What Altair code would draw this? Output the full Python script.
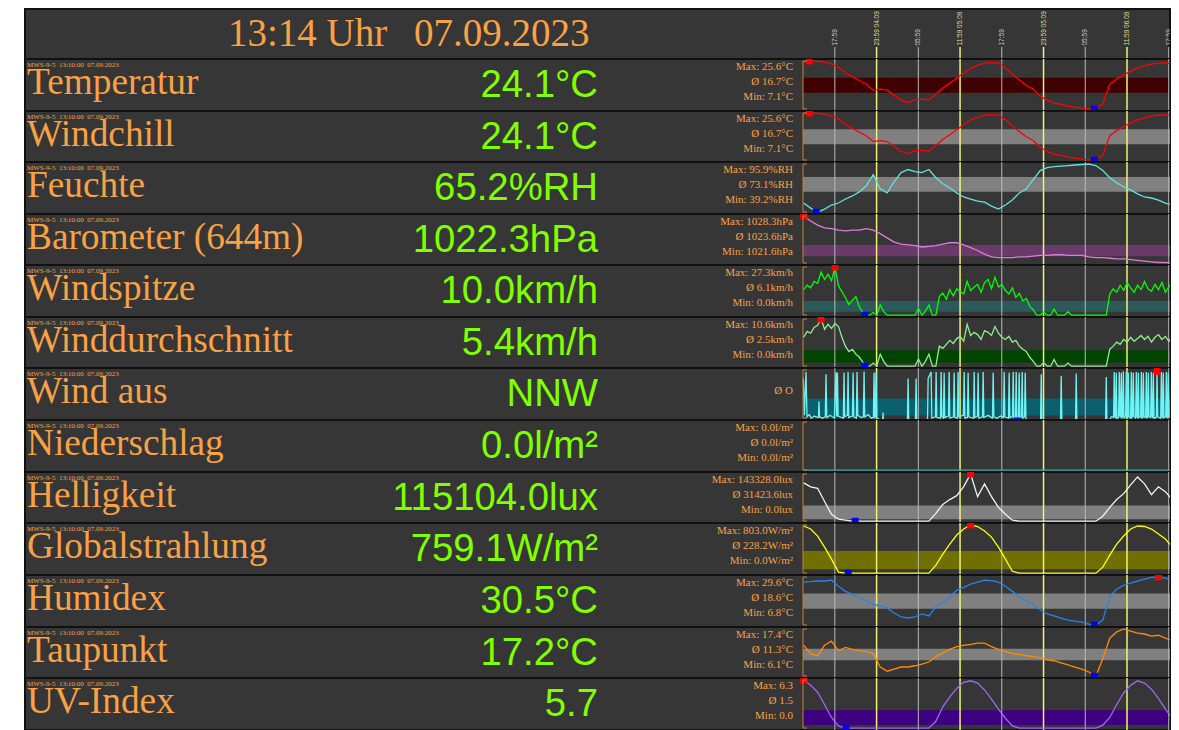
import altair as alt
import pandas as pd

# ---------------- time grid (hours since 04.09. 00:00) ----------------
hours = [13.5 + i for i in range(55)]
half_hours = [13.5 + 0.5 * j for j in range(109)]

# ---------------- series ----------------
temperatur = [25.4, 25.6, 25.5, 25.2, 24.4, 23.3, 21.0, 19.6, 18.1, 16.7,
              14.4, 14.8, 14.4, 12.5, 10.6, 9.6, 10.8, 11.0, 10.6, 12.9,
              15.2, 17.1, 19.0, 21.0, 22.9, 23.9, 24.8, 25.0, 24.8, 22.9,
              20.6, 18.3, 16.3, 14.8, 12.1, 10.6, 9.4, 9.0, 8.3, 7.9,
              7.5, 7.1, 7.5, 9.0, 16.7, 18.7, 20.2, 21.7, 22.9, 23.7,
              24.4, 24.8, 25.0, 24.4, 22.5]
windchill = [25.4, 25.6, 25.5, 25.2, 24.4, 23.3, 21.0, 19.6, 18.1, 16.7,
             14.4, 14.8, 14.4, 12.5, 10.6, 9.6, 10.8, 11.0, 10.6, 12.9,
             15.2, 17.1, 19.0, 21.0, 22.9, 23.9, 24.8, 25.0, 24.8, 22.9,
             20.6, 18.3, 16.3, 14.8, 12.1, 10.6, 9.4, 9.0, 8.3, 7.9,
             7.5, 7.1, 7.5, 9.0, 16.7, 18.7, 20.2, 21.7, 22.9, 23.7,
             24.4, 24.8, 25.0, 24.4, 22.5]
feuchte = [50.0, 44.0, 39.2, 42.8, 47.6, 50.0, 54.7, 58.3, 63.1, 70.2,
           83.4, 66.7, 61.9, 75.0, 85.8, 89.4, 87.0, 85.8, 89.4, 79.8,
           72.6, 67.9, 61.9, 57.1, 54.7, 52.3, 51.1, 46.4, 42.8, 47.6,
           53.5, 61.9, 66.7, 77.4, 88.2, 91.7, 92.9, 93.5, 94.1, 94.7,
           95.3, 95.9, 94.1, 88.2, 79.8, 73.8, 69.1, 65.5, 60.7, 57.1,
           55.9, 53.5, 50.0, 47.6, 51.1]
barometer = [1028.3, 1027.6, 1027.0, 1026.6, 1026.5, 1026.3, 1026.2, 1026.3, 1026.3, 1026.5,
             1026.3, 1025.8, 1025.2, 1024.6, 1024.3, 1024.2, 1024.1, 1023.9, 1024.0, 1024.1,
             1024.3, 1024.5, 1024.5, 1024.2, 1023.8, 1023.4, 1022.9, 1022.5, 1022.4, 1022.4,
             1022.4, 1022.5, 1022.5, 1022.6, 1022.7, 1022.7, 1022.8, 1022.8, 1022.7, 1022.7,
             1022.7, 1022.5, 1022.4, 1022.4, 1022.3, 1022.2, 1022.2, 1022.1, 1022.0, 1021.9,
             1021.8, 1021.7, 1021.7, 1021.6, 1021.6]
windspitze = [14.5, 17.0, 15.5, 19.2, 18.0, 24.4, 20.3, 23.2, 19.5, 27.3,
              16.5, 13.4, 9.9, 6.0, 8.5, 10.5, 4.6, 1.7, 0.0, 0.0,
              1.5, 0.0, 5.8, 2.0, 0.0, 0.0, 0.0, 0.0, 0.0, 0.0,
              0.0, 0.0, 0.0, 4.0, 0.0, 2.5, 5.8, 0.0, 0.0, 10.5,
              12.5, 9.0, 14.5, 11.0, 15.0, 13.4, 12.0, 19.2, 14.0, 16.0,
              17.4, 13.0, 18.5, 20.3, 15.0, 21.5, 16.0, 17.4, 14.0, 12.0,
              15.5, 10.0, 12.5, 8.0, 9.5, 5.0, 3.0, 0.0, 0.0, 2.0,
              0.0, 0.0, 3.5, 0.0, 0.0, 0.0, 2.0, 0.0, 0.0, 0.0,
              0.0, 0.0, 0.0, 0.0, 0.0, 0.0, 0.0, 0.0, 12.0, 15.0,
              13.0, 17.0, 14.0, 18.5, 15.5, 13.0, 17.0, 14.5, 19.0, 15.0,
              13.5, 17.5, 14.5, 18.5, 13.0, 16.0, 19.5, 14.0, 16.5]
winddurchschnitt = [6.5, 7.8, 7.4, 8.7, 9.2, 10.6, 8.3, 9.4, 8.5, 9.6,
                    8.9, 6.5, 4.5, 3.3, 3.8, 2.7, 2.0, 0.9, 0.0, 0.0,
                    0.7, 0.0, 2.7, 1.1, 0.0, 0.0, 0.0, 0.0, 0.0, 0.0,
                    0.0, 0.0, 0.0, 1.6, 0.0, 1.1, 2.7, 0.0, 0.0, 4.5,
                    4.0, 4.9, 5.8, 5.1, 6.2, 6.7, 5.6, 9.4, 6.9, 7.6,
                    7.1, 6.0, 8.0, 7.6, 6.9, 8.9, 7.4, 6.5, 6.0, 6.7,
                    5.4, 5.8, 4.5, 3.8, 3.3, 2.0, 1.1, 0.0, 0.0, 0.8,
                    0.0, 0.0, 1.5, 0.0, 0.0, 0.0, 0.7, 0.0, 0.0, 0.0,
                    0.0, 0.0, 0.0, 0.0, 0.0, 0.0, 0.0, 0.0, 3.8, 4.5,
                    5.4, 4.9, 6.0, 5.4, 6.5, 5.6, 6.2, 6.9, 6.0, 6.7,
                    5.4, 6.5, 7.1, 6.0, 6.7, 5.6, 6.9, 6.2, 5.8]
# wind direction (degrees) at irregular times: (hour, degrees)
wind_aus_pairs = [
    (13.45, 300), (13.60, 40), (13.83, 345), (13.98, 30), (14.30, 45), (14.60, 20),
    (15.00, 35), (15.50, 25), (15.62, 25), (15.70, 140), (15.78, 30), (16.20, 20),
    (16.60, 30), (16.71, 330), (16.82, 25), (17.30, 40), (17.90, 20), (18.15, 345),
    (18.25, 30), (18.35, 340), (18.45, 35), (18.90, 25), (19.20, 20), (19.30, 340),
    (19.40, 30), (19.78, 40), (19.88, 345), (19.98, 25), (20.50, 35), (20.60, 340),
    (20.70, 30), (21.07, 20), (21.17, 345), (21.27, 40), (21.80, 25), (22.08, 30),
    (22.18, 350), (22.28, 30), (22.80, 45), (23.20, 20), (23.52, 25), (23.62, 340),
    (23.72, 25), (23.80, 30), (23.90, 345), (24.00, 20), (24.40, 10), (24.62, 0),
    (24.85, 0), (24.91, 60), (24.97, 0),
    (28.41, 0), (28.51, 300), (28.61, 0), (29.56, 0), (29.66, 300), (29.76, 0),
    (31.00, 0), (31.30, 15), (31.39, 300), (31.82, 345), (31.92, 20), (32.44, 30),
    (32.54, 345), (32.64, 25), (33.16, 20), (33.26, 345), (33.36, 30), (33.59, 20),
    (33.69, 340), (33.79, 25), (34.31, 35), (34.41, 345), (34.51, 20), (35.03, 30),
    (35.13, 340), (35.23, 25), (35.60, 20), (35.70, 345), (35.80, 30), (36.47, 40),
    (36.57, 345), (36.67, 20), (37.04, 25), (37.14, 340), (37.24, 30), (37.91, 20),
    (38.01, 345), (38.11, 25), (38.48, 35), (38.58, 340), (38.68, 20), (39.20, 30),
    (39.30, 345), (39.40, 25), (40.00, 40), (40.64, 20), (40.74, 340), (40.84, 30),
    (41.30, 20), (41.80, 35), (42.22, 25), (42.32, 345), (42.42, 30), (42.94, 20),
    (43.04, 340), (43.14, 25), (43.52, 30), (43.62, 345), (43.72, 20), (43.95, 20),
    (44.05, 345), (44.15, 10), (44.20, 0), (44.38, 15), (44.48, 340), (44.58, 25),
    (44.81, 30), (44.91, 345), (45.01, 20), (45.25, 30), (45.35, 340), (45.45, 15),
    (45.80, 5), (46.20, 0),
    (47.55, 0), (47.65, 330), (47.75, 0), (50.42, 0), (50.52, 320), (50.62, 0),
    (52.58, 0), (52.68, 335), (52.78, 0), (56.90, 0), (57.00, 310), (57.10, 0),
    (57.50, 10), (57.72, 30),
    (58.05, 25), (58.15, 345), (58.25, 30), (58.34, 25), (58.44, 340), (58.54, 20),
    (58.77, 25), (58.87, 345), (58.97, 35), (59.06, 30), (59.16, 340), (59.26, 25),
    (59.35, 30), (59.45, 350), (59.55, 20), (59.78, 30), (59.88, 345), (59.98, 25),
    (60.07, 20), (60.17, 340), (60.27, 30), (60.50, 20), (60.60, 345), (60.70, 25),
    (60.79, 30), (60.89, 340), (60.99, 35), (61.22, 20), (61.32, 345), (61.42, 30),
    (61.51, 25), (61.61, 340), (61.71, 25), (61.94, 30), (62.04, 345), (62.14, 20),
    (62.23, 25), (62.33, 340), (62.43, 30), (62.66, 25), (62.76, 345), (62.86, 20),
    (62.95, 30), (63.05, 340), (63.15, 30), (63.38, 25), (63.48, 345), (63.58, 35),
    (63.67, 20), (63.77, 340), (63.87, 20), (64.20, 25), (64.30, 350), (64.40, 30),
    (64.82, 20), (64.92, 345), (65.02, 30), (65.10, 25), (65.20, 340), (65.30, 25),
    (65.54, 30), (65.64, 345), (65.74, 20), (65.82, 30), (65.92, 340), (66.02, 35),
    (66.25, 25), (66.35, 345), (66.45, 30), (66.54, 20), (66.64, 340), (66.74, 20),
    (66.97, 30), (67.07, 345), (67.17, 25), (67.30, 30), (67.40, 340), (67.50, 30),
]
wind_aus_t = [p[0] for p in wind_aus_pairs]
wind_aus = [p[1] for p in wind_aus_pairs]
niederschlag = [0.0, 0.0, 0.0, 0.0, 0.0, 0.0, 0.0, 0.0, 0.0, 0.0, 0.0,
                0.0, 0.0, 0.0, 0.0, 0.0, 0.0, 0.0, 0.0, 0.0, 0.0, 0.0,
                0.0, 0.0, 0.0, 0.0, 0.0, 0.0, 0.0, 0.0, 0.0, 0.0, 0.0,
                0.0, 0.0, 0.0, 0.0, 0.0, 0.0, 0.0, 0.0, 0.0, 0.0, 0.0,
                0.0, 0.0, 0.0, 0.0, 0.0, 0.0, 0.0, 0.0, 0.0, 0.0, 0.0]
helligkeit = [116500, 104500, 100000, 59700, 20900, 6000, 3000, 0, 0, 0,
              0, 0, 0, 0, 0, 0, 0, 0, 0, 23900,
              50800, 65700, 77600, 105000, 143328, 74700, 113500, 74700, 41800, 20900,
              3000, 0, 0, 0, 0, 0, 0, 0, 0, 0,
              0, 0, 0, 15000, 41800, 65700, 83600, 110500, 134400, 113500,
              80600, 104500, 89600, 65700, 41800]
globalstrahlung = [786, 736, 619, 435, 234, 17, 0, 0, 0, 0,
                   0, 0, 0, 0, 0, 0, 0, 0, 0, 134,
                   318, 485, 636, 736, 803, 778, 703, 602, 435, 234,
                   33, 0, 0, 0, 0, 0, 0, 0, 0, 0,
                   0, 0, 0, 100, 301, 485, 619, 736, 786, 778,
                   736, 652, 569, 435, 268]
humidex = [27.2, 27.4, 27.7, 27.7, 28.1, 25.2, 22.8, 21.4, 19.9, 18.4,
           16.5, 16.0, 15.0, 12.6, 10.7, 10.2, 10.7, 12.1, 11.2, 15.5,
           17.5, 20.4, 23.3, 24.7, 26.2, 27.2, 28.1, 27.9, 27.2, 25.2,
           22.8, 20.4, 18.4, 16.5, 14.1, 12.1, 11.2, 10.2, 9.2, 8.7,
           8.3, 7.3, 6.8, 9.2, 20.4, 23.8, 25.7, 26.7, 27.7, 28.6,
           29.4, 29.6, 29.1, 28.1, 27.2]
taupunkt = [13.5, 11.5, 11.0, 13.5, 14.5, 12.2, 13.0, 12.5, 12.2, 12.0,
            11.5, 8.3, 7.3, 7.8, 8.3, 8.3, 8.6, 9.0, 9.5, 10.8,
            11.7, 12.5, 13.2, 13.5, 13.7, 14.0, 14.0, 13.2, 12.5, 12.0,
            11.5, 11.3, 11.0, 10.8, 10.5, 10.0, 9.8, 9.3, 8.8, 8.3,
            7.8, 7.1, 6.1, 10.3, 15.2, 16.7, 17.4, 16.9, 16.4, 16.2,
            15.7, 15.9, 15.2, 14.7, 15.2]
uv_index = [6.3, 5.6, 4.7, 3.1, 1.4, 0.3, 0.0, 0.0, 0.0, 0.0,
            0.0, 0.0, 0.0, 0.0, 0.0, 0.0, 0.0, 0.0, 0.0, 0.9,
            2.8, 4.1, 5.2, 6.0, 6.2, 5.9, 5.0, 3.8, 2.5, 1.3,
            0.3, 0.0, 0.0, 0.0, 0.0, 0.0, 0.0, 0.0, 0.0, 0.0,
            0.0, 0.0, 0.0, 0.4, 1.4, 3.1, 4.6, 5.6, 6.2, 5.9,
            5.1, 3.9, 2.5, 1.3, 0.4]

# ---------------- per-row texts and stats ----------------
names = ["Temperatur", "Windchill", "Feuchte", "Barometer (644m)", "Windspitze",
         "Winddurchschnitt", "Wind aus", "Niederschlag", "Helligkeit",
         "Globalstrahlung", "Humidex", "Taupunkt", "UV-Index"]
current = ["24.1°C", "24.1°C", "65.2%RH", "1022.3hPa", "10.0km/h", "5.4km/h", "NNW",
           "0.0l/m²", "115104.0lux", "759.1W/m²", "30.5°C", "17.2°C", "5.7"]
stat_max = ["Max: 25.6°C", "Max: 25.6°C", "Max: 95.9%RH", "Max: 1028.3hPa", "Max: 27.3km/h",
            "Max: 10.6km/h", "", "Max: 0.0l/m²", "Max: 143328.0lux", "Max: 803.0W/m²",
            "Max: 29.6°C", "Max: 17.4°C", "Max: 6.3"]
stat_avg = ["Ø 16.7°C", "Ø 16.7°C", "Ø 73.1%RH", "Ø 1023.6hPa", "Ø 6.1km/h", "Ø 2.5km/h",
            "Ø O", "Ø 0.0l/m²", "Ø 31423.6lux", "Ø 228.2W/m²", "Ø 18.6°C", "Ø 11.3°C", "Ø 1.5"]
stat_min = ["Min: 7.1°C", "Min: 7.1°C", "Min: 39.2%RH", "Min: 1021.6hPa", "Min: 0.0km/h",
            "Min: 0.0km/h", "", "Min: 0.0l/m²", "Min: 0.0lux", "Min: 0.0W/m²",
            "Min: 6.8°C", "Min: 6.1°C", "Min: 0.0"]
station_tag = "MWS-9-5\u00a0 13:10:00\u00a0 07.09.2023"
header_time = "13:14 Uhr"
header_date = "07.09.2023"

series = [temperatur, windchill, feuchte, barometer, windspitze, winddurchschnitt,
          wind_aus, niederschlag, helligkeit, globalstrahlung, humidex, taupunkt, uv_index]
series_t = [hours, hours, hours, hours, half_hours, half_hours, wind_aus_t,
            hours, hours, hours, hours, hours, hours]
domains = [(7.1, 25.6), (7.1, 25.6), (39.2, 95.9), (1021.6, 1028.3), (0, 27.3), (0, 10.6),
           (0, 360), (0, 1), (0, 143328), (0, 803), (6.8, 29.6), (6.1, 17.4), (0, 6.3)]
bands = [(13.4, 19.2), (13.4, 19.2), (63.4, 80.6), (1022.6, 1024.2), (1.9, 8.1), (0.8, 3.6),
         (38, 158), None, (6000, 47800), (67, 368), (14.6, 21.8), (9.9, 12.7), (0.43, 2.36)]
max_marks = [(14.3, 25.6), (14.3, 25.6), None, (13.5, 1028.3), (18.0, 27.3), (16.0, 10.6),
             (64.3, 350), None, (37.5, 143328), (37.5, 803), (64.5, 29.6), None, (13.5, 6.3)]
min_marks = [(55.3, 7.1), (55.3, 7.1), (15.3, 39.2), None, (22.3, 0), (22.3, 0),
             (44.2, 0), None, (20.9, 0), (19.9, 0), (55.3, 6.8), (55.3, 6.1), (19.6, 0)]

tick_hours = [17.98, 23.98, 29.98, 35.98, 41.98, 47.98, 53.98, 59.98, 65.98]
tick_labels = ["17:59", "23:59 04.09", "05:59", "11:59 05.09", "17:59",
               "23:59 05.09", "05:59", "11:59 06.09", "17:59"]
tick_kind = ["g", "y", "g", "y", "g", "y", "g", "y", "g"]
time_domain = [13.4, 67.6]

# ---------------- styles / layout ----------------
line_colors = ["#ff0000", "#ff0000", "#5fe3e3", "#e07ae0", "#00ff00", "#90ee90", "#6ff2f2",
               "#3aa6a6", "#f2f2f2", "#ffff00", "#2086ee", "#ff8a00", "#a266f2"]
band_colors = ["#3e0000", "#808080", "#808080", "#6a3a6a", "#2c5a5a", "#004400", "#0c5f6c",
               None, "#808080", "#707000", "#808080", "#808080", "#3c0080"]
ORANGE = "#f8a145"
GREEN = "#80ff00"
AXIS_ORANGE = "#c8823c"
GRAY_LINE = "#b8b8b8"
YELLOW_LINE = "#f2f27a"
SERIF = "Liberation Serif"
SANS = "Liberation Sans"

HEADER_H = 50
ROW_H = [52, 51, 52, 51, 52, 51, 52, 52, 51, 52, 52, 51, 52]
W = 1145
X0, X1 = 778, 1155
xscale = alt.Scale(domain=time_domain, range=[X0, X1], nice=False, zero=False)
one = alt.Data(values=[{"k": 0}])


def text(s, x, y, size, font, color, align="left"):
    return alt.Chart(one).mark_text(
        text=s, align=align, baseline="alphabetic", font=font, fontSize=size,
        color=color, clip=True
    ).encode(x=alt.value(x), y=alt.value(y))


def vrules(h, y0=None):
    out = []
    for kind, col, sw in (("g", GRAY_LINE, 1), ("y", YELLOW_LINE, 1.5)):
        d = pd.DataFrame({"t": [t for t, k in zip(tick_hours, tick_kind) if k == kind]})
        enc = dict(x=alt.X("t:Q", scale=xscale, axis=None))
        if y0 is not None:
            enc.update(y=alt.value(y0), y2=alt.value(h))
        out.append(alt.Chart(d).mark_rule(color=col, strokeWidth=sw, clip=True).encode(**enc))
    return out


def header_row():
    h = HEADER_H
    layers = [text(header_time, 203, 37, 39, SERIF, ORANGE),
              text(header_date, 389, 37, 39, SERIF, ORANGE)]
    layers += vrules(h, y0=38)
    for kind, col in (("g", "#c8c8c8"), ("y", "#dede8c")):
        d = pd.DataFrame({
            "t": [t for t, k in zip(tick_hours, tick_kind) if k == kind],
            "lab": [l for l, k in zip(tick_labels, tick_kind) if k == kind],
        })
        layers.append(alt.Chart(d).mark_text(
            angle=270, align="left", baseline="middle", font=SANS, fontSize=6.5,
            color=col, clip=True
        ).encode(x=alt.X("t:Q", scale=xscale, axis=None), y=alt.value(36.5), text="lab:N"))
    return alt.layer(*layers).properties(width=W, height=h)


def data_row(i):
    h = ROW_H[i]
    bottom = h + 1 if i == 6 else h - 1.8
    yscale = alt.Scale(domain=list(domains[i]), range=[bottom, 2], nice=False, zero=False)
    layers = []
    if bands[i] is not None:
        bdf = pd.DataFrame({"t0": [time_domain[0]], "t1": [time_domain[1]],
                            "lo": [bands[i][0]], "hi": [bands[i][1]]})
        layers.append(alt.Chart(bdf).mark_rect(color=band_colors[i], clip=True).encode(
            x=alt.X("t0:Q", scale=xscale, axis=None), x2="t1:Q",
            y=alt.Y("lo:Q", scale=yscale, axis=None), y2="hi:Q"))
    layers += vrules(h)
    df = pd.DataFrame({"t": series_t[i], "v": series[i]})
    layers.append(alt.Chart(df).mark_line(
        color=line_colors[i], strokeWidth=1.3, clip=True
    ).encode(x=alt.X("t:Q", scale=xscale, axis=None),
             y=alt.Y("v:Q", scale=yscale, axis=None)))
    for marks, col in ((max_marks, "#ff0000"), (min_marks, "#0000ff")):
        if marks[i] is not None:
            mdf = pd.DataFrame({"t": [marks[i][0]], "v": [marks[i][1]]})
            layers.append(alt.Chart(mdf).mark_square(
                size=48, color=col, opacity=1, clip=True
            ).encode(x=alt.X("t:Q", scale=xscale, axis=None),
                     y=alt.Y("v:Q", scale=yscale, axis=None)))
    # orange bracket axis
    layers.append(alt.Chart(one).mark_rule(color=AXIS_ORANGE, strokeWidth=1).encode(
        x=alt.value(X0), y=alt.value(2), y2=alt.value(h - 2)))
    for yy in (2, h - 2):
        layers.append(alt.Chart(one).mark_rule(color=AXIS_ORANGE, strokeWidth=1).encode(
            x=alt.value(X0), x2=alt.value(X0 + 4), y=alt.value(yy)))
    # texts
    layers.append(text(station_tag, 2, 8.3, 7, SERIF, ORANGE))
    layers.append(text(names[i], 2, 35.3, 37.3, SERIF, ORANGE))
    layers.append(text(current[i], 573, 37.6, 38.3, SANS, GREEN, align="right"))
    for s, yy in ((stat_max[i], 10.9), (stat_avg[i], 26.0), (stat_min[i], 41.2)):
        if s:
            layers.append(text(s, 768, yy, 11, SERIF, ORANGE, align="right"))
    return alt.layer(*layers).properties(width=W, height=h)


rows = [header_row()] + [data_row(i) for i in range(len(names))]

chart = alt.vconcat(*rows, spacing=0, bounds="flush").properties(
    padding={"left": 16, "top": 0, "right": 0, "bottom": 0},
    background="#ffffff",
).configure_view(fill="#363636", stroke="#111111", strokeWidth=2)

chart.save("out.html", embed_options={"renderer": "svg", "actions": False})
